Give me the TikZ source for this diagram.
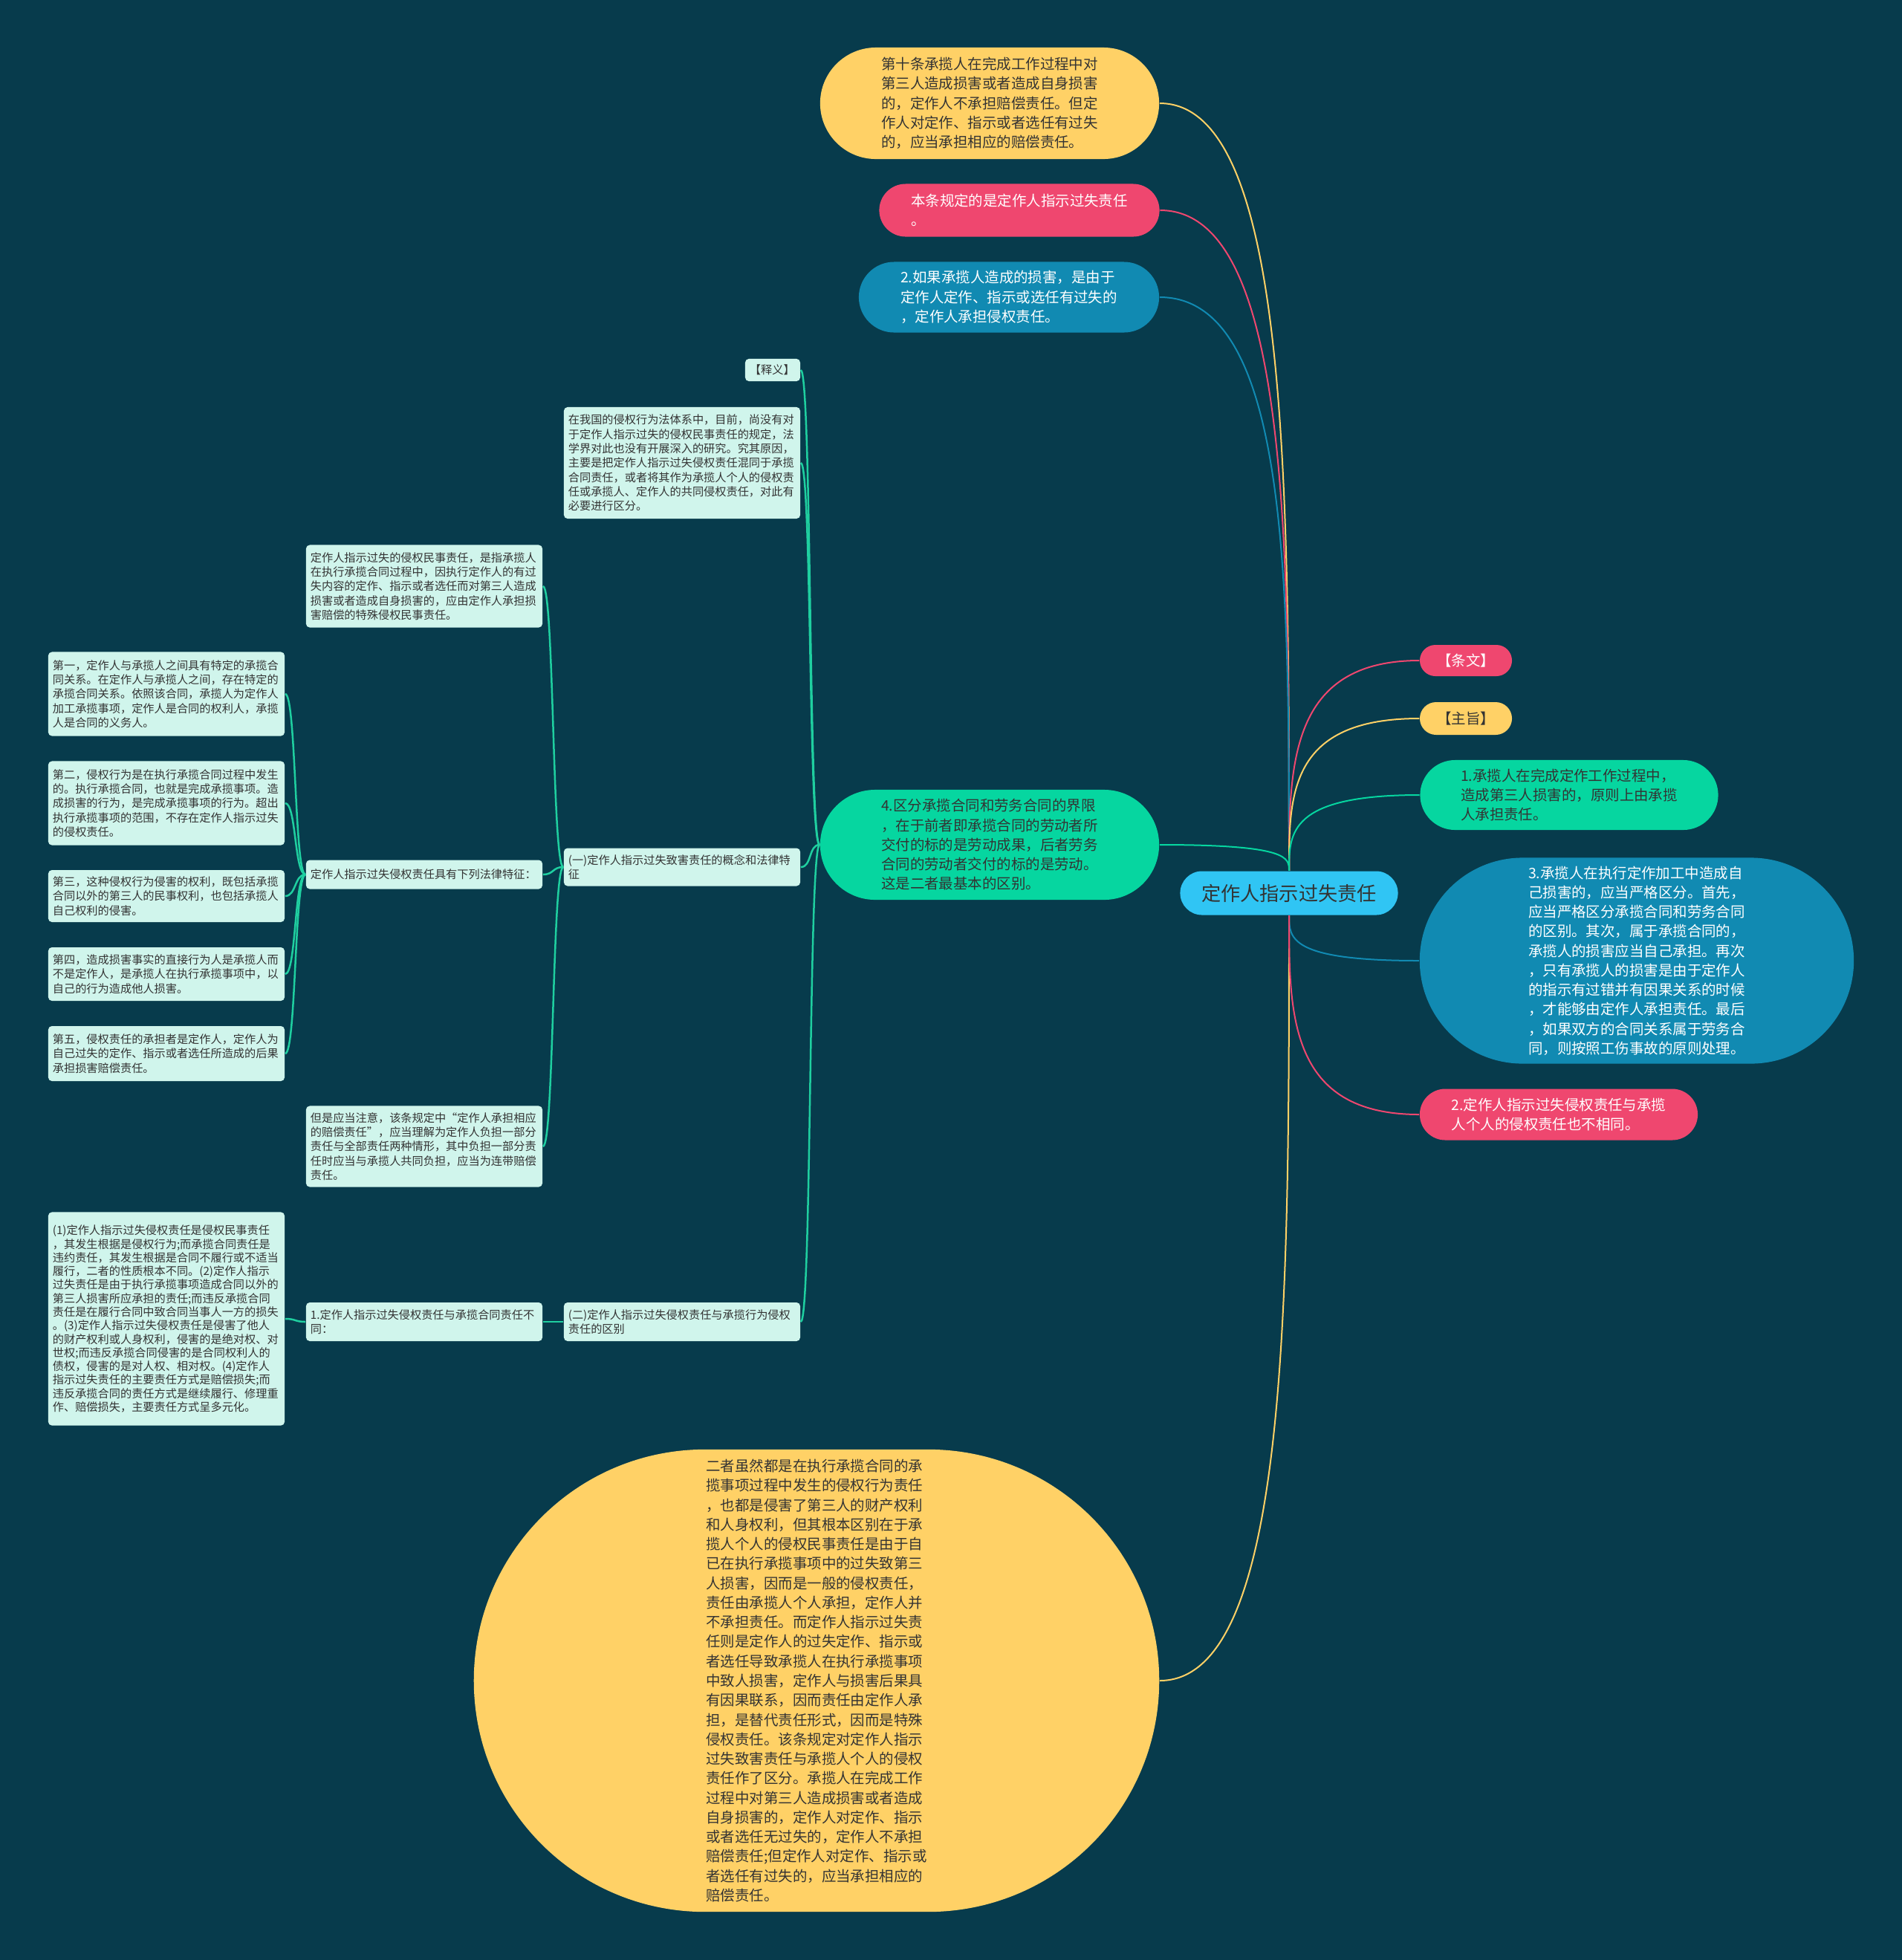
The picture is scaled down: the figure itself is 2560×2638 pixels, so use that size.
\documentclass[tikz,border=0pt]{standalone}
\usepackage{fontspec}
\setmainfont{Noto Sans CJK SC}
\usetikzlibrary{calc, positioning, shapes.misc}

\definecolor{bgc}{HTML}{073B4C}
\definecolor{cyel}{HTML}{FFD166}
\definecolor{cpink}{HTML}{EF476F}
\definecolor{cgreen}{HTML}{06D6A0}
\definecolor{cblue}{HTML}{118AB2}
\definecolor{ccyan}{HTML}{30C5F4}
\definecolor{cmint}{HTML}{D0F5EC}
\definecolor{ctext}{HTML}{333333}
\definecolor{cteal}{HTML}{1FCFA0}

\newcommand{\mintfont}{\fontsize{4.32pt}{5.49pt}\selectfont}
\newcommand{\pillfont}{\fontsize{5.53pt}{7.47pt}\selectfont}
\newcommand{\rootfont}{\fontsize{7.45pt}{9pt}\selectfont}

\begin{document}
\begin{tikzpicture}[x=0.01cm, y=-0.01cm,
  pill/.style={rounded rectangle, inner sep=0.05cm, align=left, font=\pillfont},
  mint/.style={rectangle, rounded corners=0.05cm, fill=cmint, text=ctext,
    text width=3.06cm, inner xsep=0.06cm, inner ysep=0.08cm, align=left, font=\mintfont},
  trunk/.style={line width=0.02cm,
    to path={.. controls ($(\tikztostart)!.5!(\tikztostart|-\tikztotarget)$)
      and (\tikztostart|-\tikztotarget) .. (\tikztotarget)}},
  twig/.style={cteal, line width=0.025cm,
    to path={.. controls ([xshift=-0.15cm]\tikztostart)
      and ([xshift=0.15cm]\tikztotarget) .. (\tikztotarget)}}]

\fill[bgc] (0,0) rectangle (2560,2638);
\useasboundingbox (0,0) rectangle (2560,2638);

% centre
\node[pill, fill=ccyan, text=ctext, font=\rootfont, minimum width=3.03cm, minimum height=0.59cm]
  (root) at (1735,1202) {定作人指示过失责任};

% left of centre
\node[pill, fill=cyel, text=ctext, minimum width=4.66cm, minimum height=1.50cm] (art10) at (1332,139)
  {第十条承揽人在完成工作过程中对\\第三人造成损害或者造成自身损害\\的，定作人不承担赔偿责任。但定\\作人对定作、指示或者选任有过失\\的，应当承担相应的赔偿责任。};
\node[pill, fill=cpink, text=white, minimum width=3.87cm, minimum height=0.71cm] (gist) at (1372,283)
  {本条规定的是定作人指示过失责任\\。};
\node[pill, fill=cblue, text=white, minimum width=4.14cm, minimum height=0.95cm] (fault) at (1358,400)
  {2.如果承揽人造成的损害，是由于\\定作人定作、指示或选任有过失的\\，定作人承担侵权责任。};
\node[pill, fill=cgreen, text=ctext, minimum width=4.66cm, minimum height=1.48cm] (labor) at (1332,1137)
  {4.区分承揽合同和劳务合同的界限\\，在于前者即承揽合同的劳动者所\\交付的标的是劳动成果，后者劳务\\合同的劳动者交付的标的是劳动。\\这是二者最基本的区别。};
\node[pill, fill=cyel, text=ctext, minimum width=9.32cm, minimum height=6.22cm] (both) at (1099,2262)
  {二者虽然都是在执行承揽合同的承\\揽事项过程中发生的侵权行为责任\\，也都是侵害了第三人的财产权利\\和人身权利，但其根本区别在于承\\揽人个人的侵权民事责任是由于自\\已在执行承揽事项中的过失致第三\\人损害，因而是一般的侵权责任，\\责任由承揽人个人承担，定作人并\\不承担责任。而定作人指示过失责\\任则是定作人的过失定作、指示或\\者选任导致承揽人在执行承揽事项\\中致人损害，定作人与损害后果具\\有因果联系，因而责任由定作人承\\担，是替代责任形式，因而是特殊\\侵权责任。该条规定对定作人指示\\过失致害责任与承揽人个人的侵权\\责任作了区分。承揽人在完成工作\\过程中对第三人造成损害或者造成\\自身损害的，定作人对定作、指示\\或者选任无过失的，定作人不承担\\赔偿责任;但定作人对定作、指示或\\者选任有过失的，应当承担相应的\\赔偿责任。};

% right of centre
\node[pill, fill=cpink, text=white, minimum width=1.34cm, minimum height=0.42cm] (tiaowen) at (1973,889) {【条文】};
\node[pill, fill=cyel, text=ctext, minimum width=1.34cm, minimum height=0.44cm] (zhuzhi) at (1973,967) {【主旨】};
\node[pill, fill=cgreen, text=ctext, minimum width=4.11cm, minimum height=0.94cm] (rule) at (2112,1070)
  {1.承揽人在完成定作工作过程中，\\造成第三人损害的，原则上由承揽\\人承担责任。};
\node[pill, fill=cblue, text=white, minimum width=5.94cm, minimum height=2.77cm] (self) at (2203,1293)
  {3.承揽人在执行定作加工中造成自\\己损害的，应当严格区分。首先，\\应当严格区分承揽合同和劳务合同\\的区别。其次，属于承揽合同的，\\承揽人的损害应当自己承担。再次\\，只有承揽人的损害是由于定作人\\的指示有过错并有因果关系的时候\\，才能够由定作人承担责任。最后\\，如果双方的合同关系属于劳务合\\同，则按照工伤事故的原则处理。};
\node[pill, fill=cpink, text=white, minimum width=3.84cm, minimum height=0.69cm] (personal) at (2098,1500)
  {2.定作人指示过失侵权责任与承揽\\人个人的侵权责任也不相同。};

% notes
\node[mint, text width=0.62cm, minimum height=0.30cm] (shiyi) at (1040,498) {【释义】};
\node[mint, minimum height=1.50cm] (china) at (918,623)
  {在我国的侵权行为法体系中，目前，尚没有对\\于定作人指示过失的侵权民事责任的规定，法\\学界对此也没有开展深入的研究。究其原因，\\主要是把定作人指示过失侵权责任混同于承揽\\合同责任，或者将其作为承揽人个人的侵权责\\任或承揽人、定作人的共同侵权责任，对此有\\必要进行区分。};
\node[mint, minimum height=0.51cm] (concept) at (918,1167)
  {(一)定作人指示过失致害责任的概念和法律特\\征};
\node[mint, minimum height=0.52cm] (diff) at (918,1779)
  {(二)定作人指示过失侵权责任与承揽行为侵权\\责任的区别};
\node[mint, minimum height=1.11cm] (define) at (571,789)
  {定作人指示过失的侵权民事责任，是指承揽人\\在执行承揽合同过程中，因执行定作人的有过\\失内容的定作、指示或者选任而对第三人造成\\损害或者造成自身损害的，应由定作人承担损\\害赔偿的特殊侵权民事责任。};
\node[mint, minimum height=0.39cm] (traits) at (571,1177)
  {定作人指示过失侵权责任具有下列法律特征：};
\node[mint, minimum height=1.09cm] (note) at (571,1543)
  {但是应当注意，该条规定中“定作人承担相应\\的赔偿责任”，应当理解为定作人负担一部分\\责任与全部责任两种情形，其中负担一部分责\\任时应当与承揽人共同负担，应当为连带赔偿\\责任。};
\node[mint, minimum height=0.52cm] (contract) at (571,1779)
  {1.定作人指示过失侵权责任与承揽合同责任不\\同：};
\node[mint, minimum height=1.13cm] (first) at (224,934)
  {第一，定作人与承揽人之间具有特定的承揽合\\同关系。在定作人与承揽人之间，存在特定的\\承揽合同关系。依照该合同，承揽人为定作人\\加工承揽事项，定作人是合同的权利人，承揽\\人是合同的义务人。};
\node[mint, minimum height=1.13cm] (second) at (224,1081)
  {第二，侵权行为是在执行承揽合同过程中发生\\的。执行承揽合同，也就是完成承揽事项。造\\成损害的行为，是完成承揽事项的行为。超出\\执行承揽事项的范围，不存在定作人指示过失\\的侵权责任。};
\node[mint, minimum height=0.70cm] (third) at (224,1206)
  {第三，这种侵权行为侵害的权利，既包括承揽\\合同以外的第三人的民事权利，也包括承揽人\\自己权利的侵害。};
\node[mint, minimum height=0.72cm] (fourth) at (224,1311)
  {第四，造成损害事实的直接行为人是承揽人而\\不是定作人，是承揽人在执行承揽事项中，以\\自己的行为造成他人损害。};
\node[mint, minimum height=0.74cm] (fifth) at (224,1418)
  {第五，侵权责任的承担者是定作人，定作人为\\自己过失的定作、指示或者选任所造成的后果\\承担损害赔偿责任。};
\node[mint, font=\fontsize{4.32pt}{5.2pt}\selectfont, minimum height=2.87cm] (nature) at (224,1775)
  {(1)定作人指示过失侵权责任是侵权民事责任\\，其发生根据是侵权行为;而承揽合同责任是\\违约责任，其发生根据是合同不履行或不适当\\履行，二者的性质根本不同。(2)定作人指示\\过失责任是由于执行承揽事项造成合同以外的\\第三人损害所应承担的责任;而违反承揽合同\\责任是在履行合同中致合同当事人一方的损失\\。(3)定作人指示过失侵权责任是侵害了他人\\的财产权利或人身权利，侵害的是绝对权、对\\世权;而违反承揽合同侵害的是合同权利人的\\债权，侵害的是对人权、相对权。(4)定作人\\指示过失责任的主要责任方式是赔偿损失;而\\违反承揽合同的责任方式是继续履行、修理重\\作、赔偿损失，主要责任方式呈多元化。};

% connectors
\draw[trunk, cyel] (root.north) to (art10.east);
\draw[trunk, cpink] (root.north) to (gist.east);
\draw[trunk, cblue] (root.north) to (fault.east);
\draw[trunk, cgreen] (root.north) to (labor.east);
\draw[trunk, cyel] (root.south) to (both.east);
\draw[trunk, cpink] (root.north) to (tiaowen.west);
\draw[trunk, cyel] (root.north) to (zhuzhi.west);
\draw[trunk, cgreen] (root.north) to (rule.west);
\draw[trunk, cblue] (root.south) to (self.west);
\draw[trunk, cpink] (root.south) to (personal.west);

\foreach \n in {shiyi, china, concept, diff}
  \draw[twig] (labor.west) to (\n.east);
\foreach \n in {define, traits, note}
  \draw[twig] (concept.west) to (\n.east);
\foreach \n in {first, second, third, fourth, fifth}
  \draw[twig] (traits.west) to (\n.east);
\draw[twig] (diff.west) to (contract.east);
\draw[twig] (contract.west) to (nature.east);
\end{tikzpicture}
\end{document}
